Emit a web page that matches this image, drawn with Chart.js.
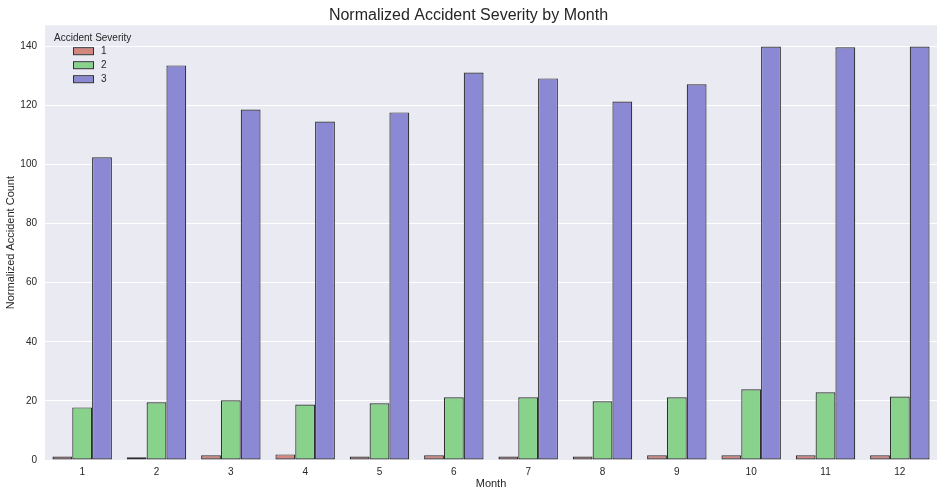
<!DOCTYPE html>
<html>
<head>
<meta charset="utf-8">
<script src="https://cdn.jsdelivr.net/npm/chart.js@4/dist/chart.umd.min.js"></script>
<style>
  html, body { margin: 0; padding: 0; background: #fff; }
  #wrap { width: 944px; height: 497px; }
</style>
</head>
<body>
<div id="wrap"><canvas id="myChart"></canvas></div>
<script>
/* data */
const months = ["1", "2", "3", "4", "5", "6", "7", "8", "9", "10", "11", "12"];
const severity1 = [1.2, 0.9, 1.6, 1.9, 1.2, 1.6, 1.2, 1.2, 1.6, 1.6, 1.6, 1.6];
const severity2 = [17.8, 19.5, 20.2, 18.8, 19.2, 21.2, 21.2, 19.9, 21.2, 23.9, 22.9, 21.5];
const severity3 = [102.4, 133.5, 118.6, 114.5, 117.6, 131.1, 129.1, 121.3, 127.1, 139.9, 139.6, 139.9];
const yTicks = [0, 20, 40, 60, 80, 100, 120, 140];

const redColor = "#d4877f";
const greenColor = "#88d28c";
const blueColor = "#8c89d4";
const edgeColor = "#2f2f33";
const textColor = "#262626";

/* plot background + legend inside the axes */
const axesBackground = {
  id: "axesBackground",
  beforeDraw(chart) {
    const { ctx, chartArea } = chart;
    ctx.save();
    ctx.fillStyle = "#eaeaf2";
    ctx.fillRect(chartArea.left, chartArea.top, chartArea.right - chartArea.left, chartArea.bottom - chartArea.top);
    ctx.restore();
  },
};

const innerLegend = {
  id: "innerLegend",
  afterDraw(chart) {
    const { ctx, chartArea } = chart;
    const x0 = chartArea.left + 9;
    const y0 = chartArea.top + 13;
    ctx.save();
    ctx.fillStyle = textColor;
    ctx.font = "10px 'Liberation Sans', Arial, sans-serif";
    ctx.textBaseline = "middle";
    ctx.fillText("Accident Severity", x0, y0);
    chart.data.datasets.forEach((ds, i) => {
      const y = y0 + 13 + i * 14;
      ctx.fillStyle = ds.backgroundColor;
      ctx.fillRect(x0 + 19, y - 3, 20, 6);
      ctx.strokeStyle = edgeColor;
      ctx.lineWidth = 1;
      ctx.strokeRect(x0 + 19.5, y - 3.5, 20, 7);
      ctx.fillStyle = textColor;
      ctx.fillText(ds.label, x0 + 47, y);
    });
    ctx.restore();
  },
};

let ctx = document.getElementById("myChart");

function makeSet(label, values, color) {
  return {
    label: label,
    data: values,
    backgroundColor: color,
    borderColor: edgeColor,
    borderWidth: 1.2,
    borderSkipped: false,
    categoryPercentage: 0.8,
    barPercentage: 1.0,
  };
}

let barChart = new Chart(ctx, {
  type: "bar",
  data: {
    labels: months,
    datasets: [
      makeSet("1", severity1, redColor),
      makeSet("2", severity2, greenColor),
      makeSet("3", severity3, blueColor),
    ],
  },
  options: {
    responsive: true,
    maintainAspectRatio: false,
    animation: false,
    layout: { padding: { top: 0, right: 7, bottom: 0, left: 0 } },
    plugins: {
      legend: { display: false },
      tooltip: { enabled: false },
      title: {
        display: true,
        text: "Normalized Accident Severity by Month",
        color: textColor,
        font: { size: 16, family: "'Liberation Sans', Arial, sans-serif", weight: "normal" },
        padding: { top: 6, bottom: 0 },
      },
    },
    scales: {
      x: {
        grid: { display: false, drawTicks: false, tickLength: 0 },
        border: { display: false },
        ticks: {
          color: textColor,
          font: { size: 10, family: "'Liberation Sans', Arial, sans-serif" },
          padding: 6,
          maxRotation: 0,
        },
        title: {
          display: true,
          text: "Month",
          color: textColor,
          font: { size: 11, family: "'Liberation Sans', Arial, sans-serif" },
          padding: { top: 6, bottom: 6 },
        },
        afterFit(scale) {
          scale.height = 37;
        },
      },
      y: {
        min: 0,
        max: 147.1,
        grid: { color: "#ffffff", lineWidth: 1, drawTicks: false },
        border: { display: false },
        afterBuildTicks(scale) {
          scale.ticks = yTicks.map((v) => ({ value: v }));
        },
        ticks: {
          color: textColor,
          font: { size: 10, family: "'Liberation Sans', Arial, sans-serif" },
          padding: 8,
        },
        title: {
          display: true,
          text: "Normalized Accident Count",
          color: textColor,
          font: { size: 11, family: "'Liberation Sans', Arial, sans-serif" },
          padding: { top: 4, bottom: 4 },
        },
        afterFit(scale) {
          scale.width = 45;
        },
      },
    },
  },
  plugins: [axesBackground, innerLegend],
});
</script>
</body>
</html>
